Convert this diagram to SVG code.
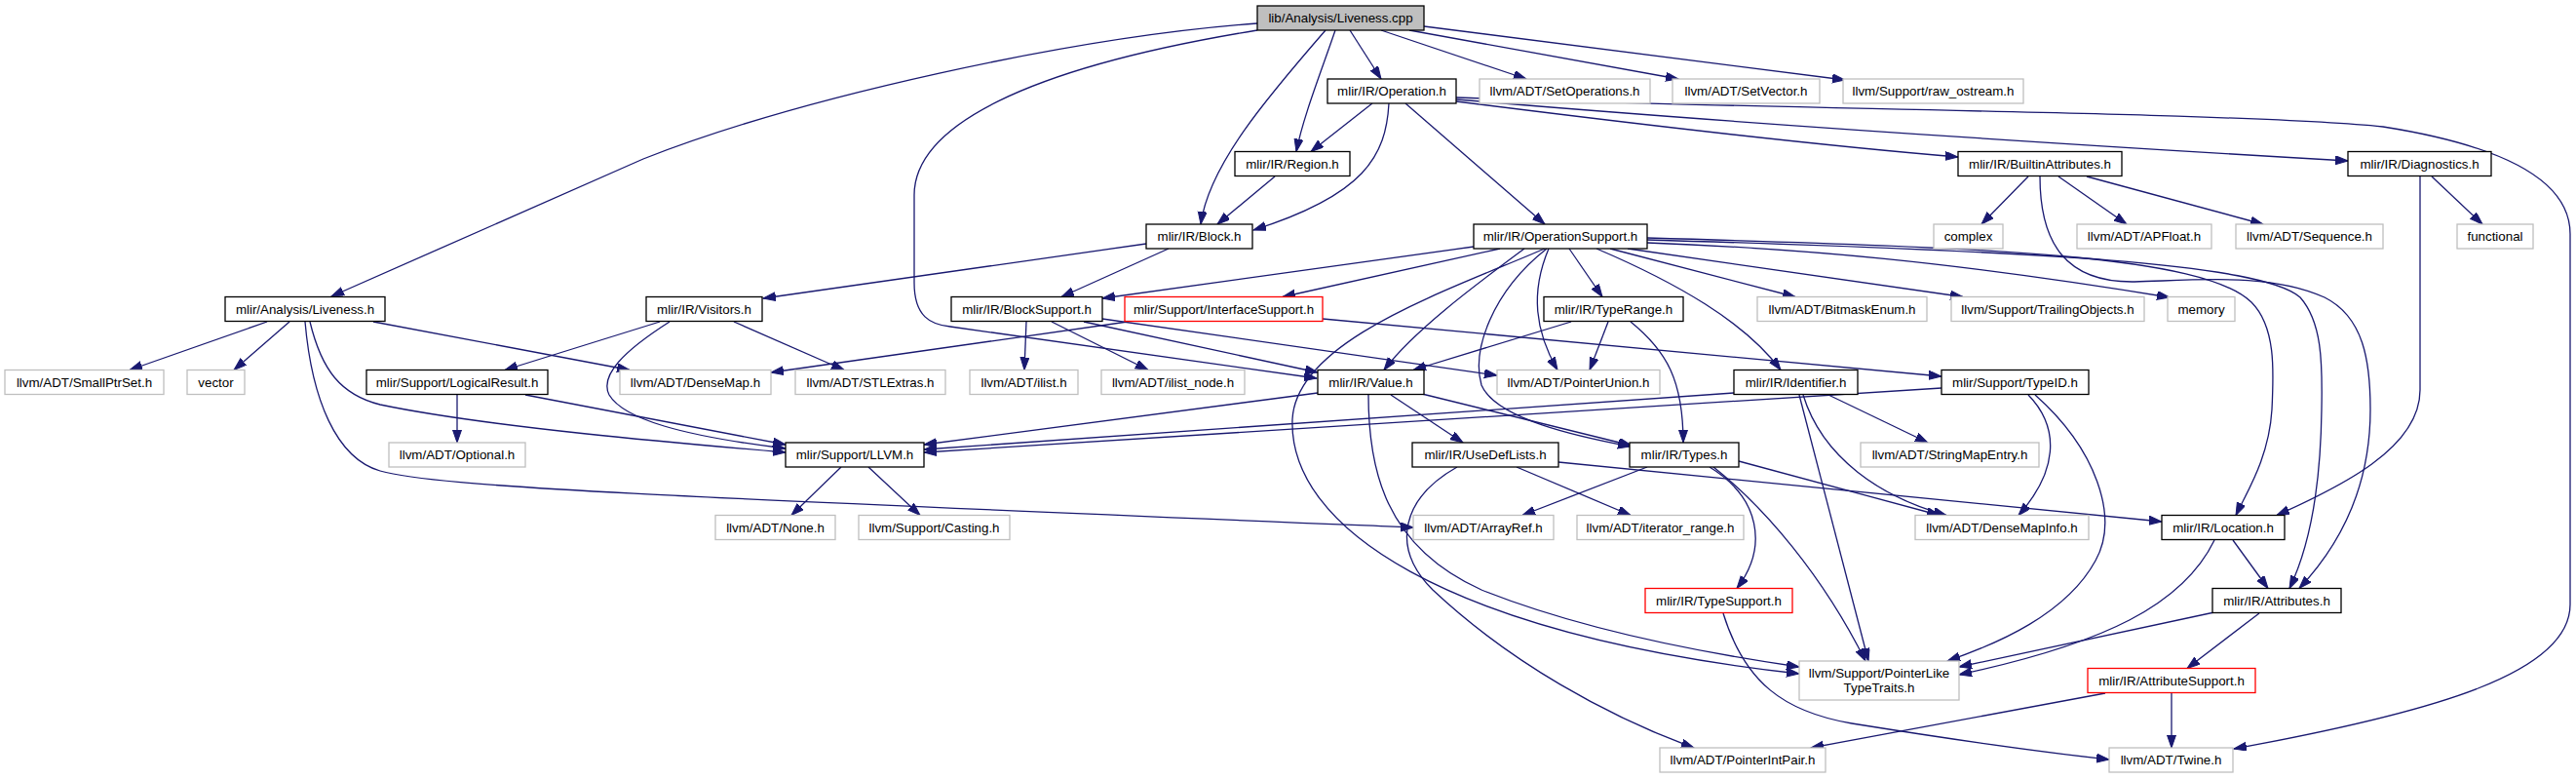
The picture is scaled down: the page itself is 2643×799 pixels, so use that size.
<svg xmlns="http://www.w3.org/2000/svg" width="2643" height="799" viewBox="0 0 2643 799">
<defs>
<marker id="a" markerUnits="userSpaceOnUse" markerWidth="14" markerHeight="10" refX="13" refY="4.5" orient="auto">
<path d="M0,0 L13,4.5 L0,9 z" fill="#191970" stroke="#191970" stroke-width="1"/>
</marker>
<style>
rect{fill:#fff;stroke:#000;stroke-width:1.3}
.g rect{stroke:#bfbfbf}
.r rect{stroke:#ff0000}
.root rect{fill:#bfbfbf}
text{font-family:"Liberation Sans",Arial,sans-serif;font-size:13.33px;text-anchor:middle;fill:#000}
#edges path{fill:none;stroke:#191970;stroke-width:1.3;marker-end:url(#a)}
</style>
</defs>
<rect x="0" y="0" width="2643" height="799" style="fill:#fff;stroke:none"/>
<g id="edges">
<path d="M1290,24 C1100,38 820,100 660,163 L340,304"/>
<path d="M1290,31 C1050,70 938,130 938,200 L938,290 C938,325 955,333 975,335 L1351,388"/>
<path d="M1360,31 C1300,100 1240,170 1232,230"/>
<path d="M1370,31 C1355,75 1337,120 1330,155.5"/>
<path d="M1385,31 L1417,81"/>
<path d="M1417,31 L1566,81"/>
<path d="M1446,31 L1722,81"/>
<path d="M1461,27 L1893,82"/>
<path d="M1408,106 L1345,155.5"/>
<path d="M1425,106 C1422,160 1400,200 1286,236"/>
<path d="M1442,106 L1585,230"/>
<path d="M1494,104 C1700,130 1900,152 2009,161"/>
<path d="M1494,102 C1800,128 2150,150 2409,165"/>
<path d="M1494,100 C1800,112 2300,115 2445,130 C2540,145 2637,175 2637,240 L2637,620 C2637,690 2500,730 2292,768"/>
<path d="M1308,181 L1249,230"/>
<path d="M1176,250 L783,306"/>
<path d="M1199,255 L1089,304.5"/>
<path d="M1512,253 L1131,306"/>
<path d="M1539,255 L1316,304.5"/>
<path d="M1564,255 C1510,295 1450,340 1420,379.5"/>
<path d="M1585,255 C1480,300 1330,350 1326,430 C1322,540 1480,650 1846,691"/>
<path d="M1589,255 C1570,300 1575,340 1598,379.5"/>
<path d="M1587,255 C1530,300 1510,360 1520,395 C1535,430 1620,448 1673,458"/>
<path d="M1610,255 L1644,304.5"/>
<path d="M1638,255 C1720,290 1790,330 1827,379.5"/>
<path d="M1652,255 L1842,304.5"/>
<path d="M1670,255 L2014,304.5"/>
<path d="M1690,249 C1850,255 2000,268 2226,305"/>
<path d="M1690,244 C2050,254 2260,262 2310,310 C2335,335 2333,380 2331,420 C2328,470 2305,505 2294,528.5"/>
<path d="M1690,246 C2100,258 2320,270 2360,305 C2382,330 2383,370 2382,420 C2381,500 2370,560 2349,603.5"/>
<path d="M2093,181 C2093,250 2120,290 2190,289 C2260,287 2330,280 2385,305 C2425,325 2432,370 2432,420 C2432,500 2400,560 2359,603.5"/>
<path d="M2081,181 L2033,230"/>
<path d="M2112,181 L2182,230"/>
<path d="M2141,181 L2322,230"/>
<path d="M2483,181 L2483,400 C2483,460 2400,500 2336,528.5"/>
<path d="M2495,181 L2547,230"/>
<path d="M274,330 L133,379.5"/>
<path d="M297,330 L240,379.5"/>
<path d="M383,330 L646,379.5"/>
<path d="M318,330 C330,380 350,405 390,415 C500,438 700,455 806,464"/>
<path d="M313,330 C320,410 345,470 390,483 C450,500 700,510 1450,541"/>
<path d="M677,330 L518,379.5"/>
<path d="M687,330 C640,360 615,385 625,405 C640,430 700,447 806,460"/>
<path d="M753,330 L866,379.5"/>
<path d="M1157,330 L791,382"/>
<path d="M1357,327 L1992,386"/>
<path d="M1053,330 L1051,379.5"/>
<path d="M1079,330 L1178,379.5"/>
<path d="M1112,330 L1352,382"/>
<path d="M1131,327 L1536,385"/>
<path d="M1612,330 L1450,379.5"/>
<path d="M1650,330 L1631,379.5"/>
<path d="M1673,330 C1710,360 1727,390 1727,454"/>
<path d="M469,405 L469,454"/>
<path d="M539,405 L806,456"/>
<path d="M1352,403 L948,456"/>
<path d="M1427,405 L1501,454"/>
<path d="M1459,404 L1674,457"/>
<path d="M1404,405 C1404,480 1420,560 1520,605 C1620,645 1750,670 1846,684"/>
<path d="M1779,403 L948,461"/>
<path d="M1846,405 L1917,678"/>
<path d="M1850,405 C1870,470 1930,510 1997,528.5"/>
<path d="M1876,405 L1978,454"/>
<path d="M1992,398 L948,464"/>
<path d="M2081,405 C2115,440 2110,485 2071,528.5"/>
<path d="M2088,405 C2150,460 2175,530 2150,575 C2120,630 2050,660 1998,678"/>
<path d="M1556,479 L1673,528.5"/>
<path d="M1599,474 L2218,535"/>
<path d="M1495,479 C1440,510 1425,560 1470,605 C1550,680 1650,735 1738,767"/>
<path d="M1690,479 L1562,528.5"/>
<path d="M1754,479 C1805,510 1815,560 1782,603.5"/>
<path d="M1758,479 C1810,520 1870,590 1914,678"/>
<path d="M1784,473 L1990,528.5"/>
<path d="M863,479 L812,528.5"/>
<path d="M891,479 L944,528.5"/>
<path d="M2291,554 L2327,603.5"/>
<path d="M2272,554 C2240,620 2160,660 2010,692"/>
<path d="M2272,628 L2010,684"/>
<path d="M2318,629 L2244,685.5"/>
<path d="M2228,711 L2228,767"/>
<path d="M2160,711 L1858,767"/>
<path d="M1768,629 C1790,700 1830,730 1900,742 C2000,758 2100,772 2164,779"/>
</g>
<g id="n_cpp" class="root"><rect x="1290" y="6" width="171" height="25"/><text x="1375.5" y="23.2">lib/Analysis/Liveness.cpp</text></g>
<g id="n_operation"><rect x="1362" y="81" width="132" height="25"/><text x="1428" y="98.2">mlir/IR/Operation.h</text></g>
<g id="n_setops" class="g"><rect x="1518" y="81" width="175" height="25"/><text x="1605.5" y="98.2">llvm/ADT/SetOperations.h</text></g>
<g id="n_setvector" class="g"><rect x="1716" y="81" width="151" height="25"/><text x="1791.5" y="98.2">llvm/ADT/SetVector.h</text></g>
<g id="n_rawostream" class="g"><rect x="1891" y="81" width="185" height="25"/><text x="1983.5" y="98.2">llvm/Support/raw_ostream.h</text></g>
<g id="n_region"><rect x="1267" y="155.5" width="118" height="25"/><text x="1326" y="172.7">mlir/IR/Region.h</text></g>
<g id="n_builtinattr"><rect x="2009" y="155.5" width="168" height="25"/><text x="2093" y="172.7">mlir/IR/BuiltinAttributes.h</text></g>
<g id="n_diagnostics"><rect x="2409" y="155.5" width="147" height="25"/><text x="2482.5" y="172.7">mlir/IR/Diagnostics.h</text></g>
<g id="n_block"><rect x="1176" y="230" width="109" height="25"/><text x="1230.5" y="247.2">mlir/IR/Block.h</text></g>
<g id="n_opsupport"><rect x="1512" y="230" width="178" height="25"/><text x="1601" y="247.2">mlir/IR/OperationSupport.h</text></g>
<g id="n_complex" class="g"><rect x="1984" y="230" width="71" height="25"/><text x="2019.5" y="247.2">complex</text></g>
<g id="n_apfloat" class="g"><rect x="2131" y="230" width="138" height="25"/><text x="2200" y="247.2">llvm/ADT/APFloat.h</text></g>
<g id="n_sequence" class="g"><rect x="2294" y="230" width="151" height="25"/><text x="2369.5" y="247.2">llvm/ADT/Sequence.h</text></g>
<g id="n_functional" class="g"><rect x="2521" y="230" width="78" height="25"/><text x="2560" y="247.2">functional</text></g>
<g id="n_livenessh"><rect x="231" y="304.5" width="164" height="25"/><text x="313" y="321.7">mlir/Analysis/Liveness.h</text></g>
<g id="n_visitors"><rect x="663" y="304.5" width="119" height="25"/><text x="722.5" y="321.7">mlir/IR/Visitors.h</text></g>
<g id="n_blocksupport"><rect x="976" y="304.5" width="155" height="25"/><text x="1053.5" y="321.7">mlir/IR/BlockSupport.h</text></g>
<g id="n_interfacesupport" class="r"><rect x="1154" y="304.5" width="203" height="25"/><text x="1255.5" y="321.7">mlir/Support/InterfaceSupport.h</text></g>
<g id="n_typerange"><rect x="1584" y="304.5" width="143" height="25"/><text x="1655.5" y="321.7">mlir/IR/TypeRange.h</text></g>
<g id="n_bitmask" class="g"><rect x="1803" y="304.5" width="174" height="25"/><text x="1890" y="321.7">llvm/ADT/BitmaskEnum.h</text></g>
<g id="n_trailing" class="g"><rect x="2002" y="304.5" width="198" height="25"/><text x="2101" y="321.7">llvm/Support/TrailingObjects.h</text></g>
<g id="n_memory" class="g"><rect x="2224" y="304.5" width="69" height="25"/><text x="2258.5" y="321.7">memory</text></g>
<g id="n_smallptrset" class="g"><rect x="5" y="379.5" width="163" height="25"/><text x="86.5" y="396.7">llvm/ADT/SmallPtrSet.h</text></g>
<g id="n_vector" class="g"><rect x="192" y="379.5" width="59" height="25"/><text x="221.5" y="396.7">vector</text></g>
<g id="n_logicalresult"><rect x="376" y="379.5" width="186" height="25"/><text x="469" y="396.7">mlir/Support/LogicalResult.h</text></g>
<g id="n_densemap" class="g"><rect x="636" y="379.5" width="155" height="25"/><text x="713.5" y="396.7">llvm/ADT/DenseMap.h</text></g>
<g id="n_stlextras" class="g"><rect x="816" y="379.5" width="154" height="25"/><text x="893" y="396.7">llvm/ADT/STLExtras.h</text></g>
<g id="n_ilist" class="g"><rect x="995" y="379.5" width="111" height="25"/><text x="1050.5" y="396.7">llvm/ADT/ilist.h</text></g>
<g id="n_ilistnode" class="g"><rect x="1130" y="379.5" width="147" height="25"/><text x="1203.5" y="396.7">llvm/ADT/ilist_node.h</text></g>
<g id="n_value"><rect x="1352" y="379.5" width="109" height="25"/><text x="1406.5" y="396.7">mlir/IR/Value.h</text></g>
<g id="n_pointerunion" class="g"><rect x="1536" y="379.5" width="167" height="25"/><text x="1619.5" y="396.7">llvm/ADT/PointerUnion.h</text></g>
<g id="n_identifier"><rect x="1779" y="379.5" width="127" height="25"/><text x="1842.5" y="396.7">mlir/IR/Identifier.h</text></g>
<g id="n_typeid"><rect x="1992" y="379.5" width="151" height="25"/><text x="2067.5" y="396.7">mlir/Support/TypeID.h</text></g>
<g id="n_optional" class="g"><rect x="399" y="454" width="140" height="25"/><text x="469" y="471.2">llvm/ADT/Optional.h</text></g>
<g id="n_llvm"><rect x="806" y="454" width="142" height="25"/><text x="877" y="471.2">mlir/Support/LLVM.h</text></g>
<g id="n_usedeflists"><rect x="1449" y="454" width="150" height="25"/><text x="1524" y="471.2">mlir/IR/UseDefLists.h</text></g>
<g id="n_types"><rect x="1672" y="454" width="112" height="25"/><text x="1728" y="471.2">mlir/IR/Types.h</text></g>
<g id="n_stringmapentry" class="g"><rect x="1909" y="454" width="183" height="25"/><text x="2000.5" y="471.2">llvm/ADT/StringMapEntry.h</text></g>
<g id="n_none" class="g"><rect x="734" y="528.5" width="123" height="25"/><text x="795.5" y="545.7">llvm/ADT/None.h</text></g>
<g id="n_casting" class="g"><rect x="881" y="528.5" width="155" height="25"/><text x="958.5" y="545.7">llvm/Support/Casting.h</text></g>
<g id="n_arrayref" class="g"><rect x="1450" y="528.5" width="144" height="25"/><text x="1522" y="545.7">llvm/ADT/ArrayRef.h</text></g>
<g id="n_iterrange" class="g"><rect x="1618" y="528.5" width="171" height="25"/><text x="1703.5" y="545.7">llvm/ADT/iterator_range.h</text></g>
<g id="n_densemapinfo" class="g"><rect x="1965" y="528.5" width="178" height="25"/><text x="2054" y="545.7">llvm/ADT/DenseMapInfo.h</text></g>
<g id="n_location"><rect x="2218" y="528.5" width="126" height="25"/><text x="2281" y="545.7">mlir/IR/Location.h</text></g>
<g id="n_typesupport" class="r"><rect x="1688" y="603.5" width="151" height="25"/><text x="1763.5" y="620.7">mlir/IR/TypeSupport.h</text></g>
<g id="n_attributes"><rect x="2270" y="603.5" width="132" height="25"/><text x="2336" y="620.7">mlir/IR/Attributes.h</text></g>
<g id="n_pointerlike" class="g"><rect x="1846" y="678" width="164" height="40"/><text x="1928" y="695">llvm/Support/PointerLike</text><text x="1928" y="710">TypeTraits.h</text></g>
<g id="n_attrsupport" class="r"><rect x="2142" y="685.5" width="172" height="25"/><text x="2228" y="702.7">mlir/IR/AttributeSupport.h</text></g>
<g id="n_pointerintpair" class="g"><rect x="1703" y="767" width="170" height="25"/><text x="1788" y="784.2">llvm/ADT/PointerIntPair.h</text></g>
<g id="n_twine" class="g"><rect x="2164" y="767" width="127" height="25"/><text x="2227.5" y="784.2">llvm/ADT/Twine.h</text></g>
</svg>
